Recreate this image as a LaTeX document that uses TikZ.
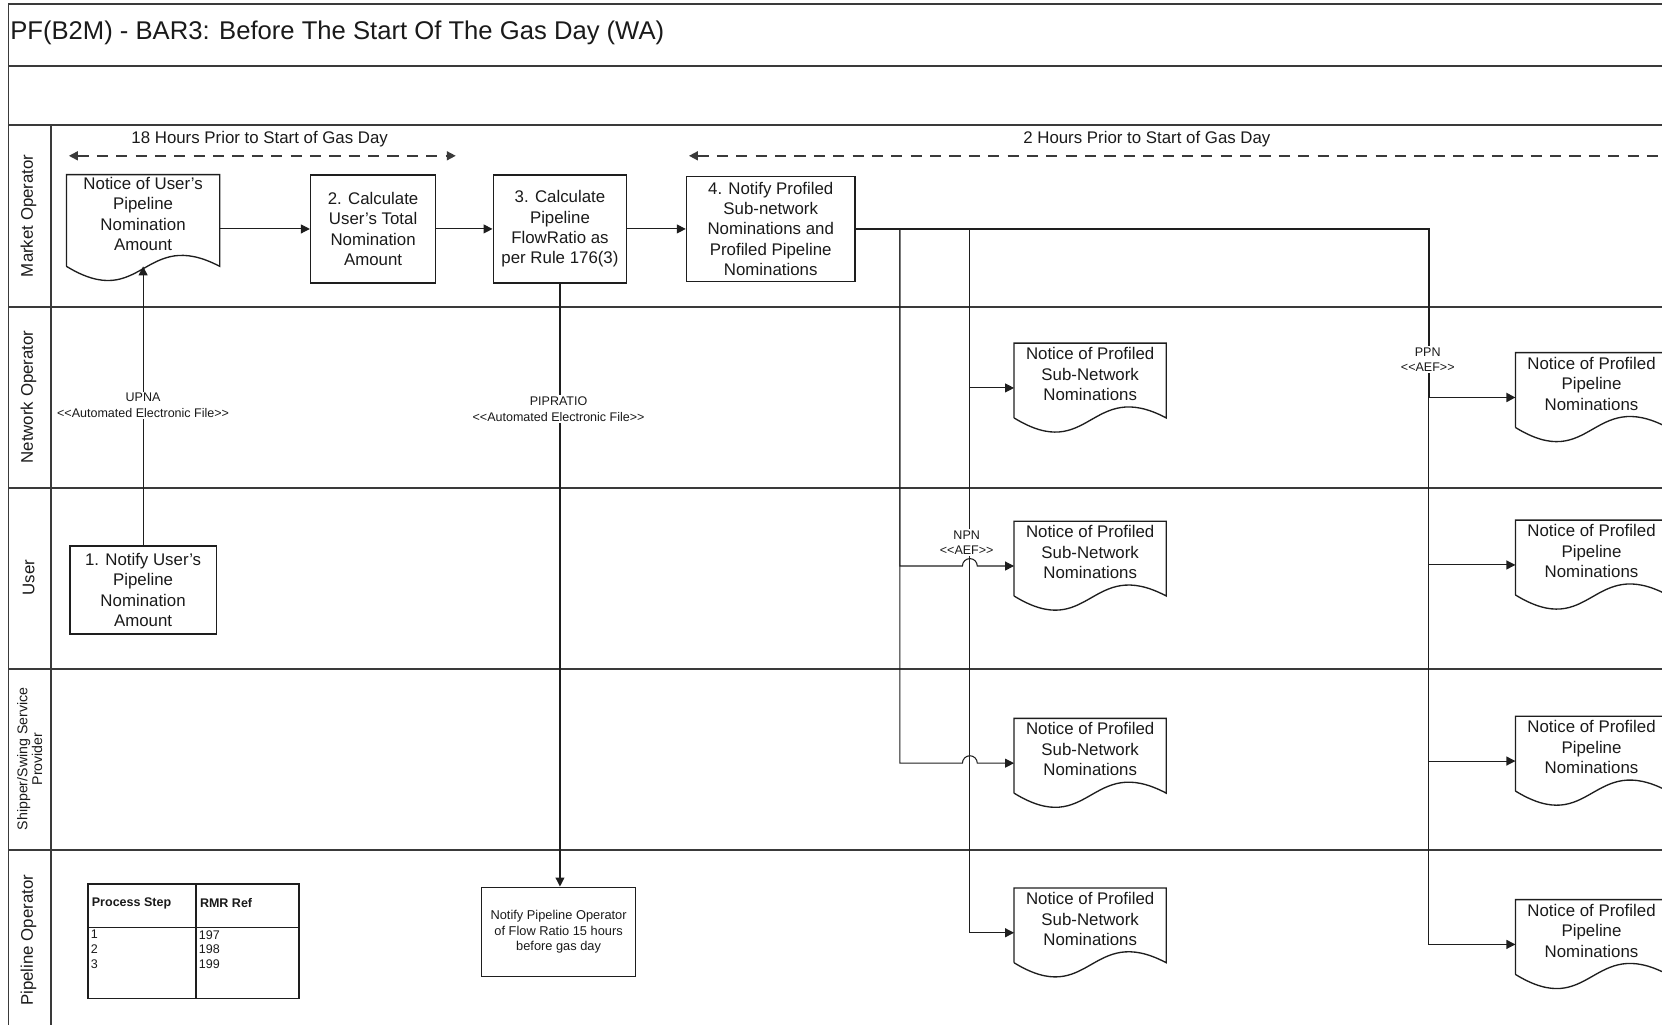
\documentclass[tikz,border=0pt]{standalone}
\usepackage{fontspec}
\setmainfont{Liberation Sans}
\usetikzlibrary{arrows.meta, positioning, calc}
\definecolor{laneline}{HTML}{3A3A3A}
\definecolor{boxline}{HTML}{1E1E1E}
\definecolor{darktext}{HTML}{1A1A1A}

\newcommand{\dbllt}{<\kern0pt<}
\newcommand{\dblgt}{>\kern0pt>}
% document shape: outline with wavy bottom drawn round a node
\newcommand{\docoutline}[1]{%
  \draw[docline] ($(#1.south west)+(0,12)$) -- (#1.north west) -- (#1.north east) -- ($(#1.south east)+(0,12)$)
    .. controls ($(#1.south)+(0,-26)$) and ($(#1.south)+(0,56)$) .. ($(#1.south west)+(0,12)$);
  \coordinate (#1-in) at ($(#1.west)+(0,13)$);
  \coordinate (#1-bot) at ($(#1.south)+(0,12)$);
}

\begin{document}
\begin{tikzpicture}[
  x=0.025cm, y=-0.025cm,
  every node/.style={font=\fontsize{11.3}{13.7}\selectfont, text=darktext},
  procbox/.style={rectangle, draw=boxline, line width=0.9pt, align=center, inner sep=1.5pt},
  docnode/.style={rectangle, align=center, inner sep=1pt, minimum width=3.575cm, minimum height=1.45cm},
  docline/.style={draw=boxline, line width=0.9pt},
  lane/.style={draw=laneline, line width=1.3pt},
  lanelabel/.style={rotate=90, align=center},
  flow/.style={-{Triangle[length=6pt, width=6pt]}, line width=0.7pt, draw=boxline},
  trunk/.style={flow, line width=1.3pt},
  timing/.style={{Triangle[length=6pt, width=6pt]}-{Triangle[length=6pt, width=6pt]}, line width=1.1pt, draw=laneline, dash pattern=on 7.5pt off 5.5pt},
  tag/.style={font=\fontsize{8.4}{10.5}\selectfont, fill=white, inner sep=1pt, align=center},
  smalltext/.style={font=\fontsize{8.6}{10.3}\selectfont},
  tabtext/.style={font=\fontsize{8.4}{10}\selectfont, inner sep=1pt, align=left}
]
\useasboundingbox (0,0) rectangle (1568,967);
\clip (0,0) rectangle (1568,967);

% === LANES ===
\foreach \ly in {4,62,118,290,460,631,802}
  \draw[lane] (8,\ly) -- (1720,\ly);
\draw[lane] (8,4) -- (8,1000);
\draw[lane] (48,118) -- (48,1000);

\node[anchor=west, inner sep=1pt, font=\fontsize{17.2}{20}\selectfont] (title) at (8,31) {PF(B2M) - BAR3: Before The Start Of The Gas Day (WA)};

\node[lanelabel] (lanemo) at (27,203.5) {Market Operator};
\node[lanelabel] (laneno) at (27,374.5) {Network Operator};
\node[lanelabel] (laneuser) at (27,545) {User};
\node[lanelabel, font=\fontsize{9.5}{10}\selectfont] (laneship) at (28,716) {Shipper/Swing Service\\Provider};
\node[lanelabel] (lanepo) at (27,887) {Pipeline Operator};

% === TIMING ===
\node (t18) at (245,131) {18 Hours Prior to Start of Gas Day};
\coordinate (t18l) at (65,147);
\coordinate (t18r) at (430,147);
\draw[timing] (t18l) -- (t18r);
\node (t2) at (1082,131) {2 Hours Prior to Start of Gas Day};
\coordinate (t2l) at (650,147);
\coordinate (t2r) at (1720,147);
\draw[timing] (t2l) -- (t2r);

% === MARKET OPERATOR ===
\node[docnode, minimum width=3.6cm, minimum height=1.85cm] (upnadoc) at (135,202) {Notice of User's\\Pipeline\\Nomination\\Amount};
\docoutline{upnadoc}
\node[procbox, minimum width=2.95cm, minimum height=2.55cm] (calctotal) at (352,216) {2. Calculate\\User's Total\\Nomination\\Amount};
\node[procbox, minimum width=3.15cm, minimum height=2.55cm, right=1.325cm of calctotal] (calcratio) {3. Calculate\\Pipeline\\FlowRatio as\\per Rule 176(3)};
\node[procbox, minimum width=3.975cm, minimum height=2.475cm, right=1.375cm of calcratio] (notifyprof) {4. Notify Profiled\\Sub-network\\Nominations and\\Profiled Pipeline\\Nominations};

\draw[flow] (upnadoc.east |- calctotal.west) -- (calctotal.west);
\draw[flow] (calctotal) -- (calcratio);
\draw[flow] (calcratio) -- (notifyprof);

% === USER ===
\node[procbox, minimum width=3.45cm, minimum height=2.075cm] (notifyuser) at (135,556.5) {1. Notify User's\\Pipeline\\Nomination\\Amount};
\draw[flow] (notifyuser.north) -- (upnadoc-bot);

% === PIPELINE OPERATOR ===
\node[procbox, smalltext, minimum width=3.625cm, minimum height=2.1cm] (notifypo) at (527,879) {Notify Pipeline Operator\\of Flow Ratio 15 hours\\before gas day};
\draw[flow] (calcratio.south) -- (calcratio.south |- notifypo.north);

% table of process steps
\draw[docline] (83,834) rectangle (282,942);
\draw[docline] (185,834) -- (185,942);
\draw[docline] (83,875) -- (282,875);
\node[tabtext, font=\fontsize{8.4}{10}\selectfont\bfseries, anchor=west] (hstep) at (85,852) {Process Step};
\node[tabtext, font=\fontsize{8.4}{10}\selectfont\bfseries, anchor=west] (hrmr) at (187,852) {RMR Ref};
\node[tabtext, anchor=north west] (steps) at (84,876) {1\\2\\3};
\node[tabtext, anchor=north west] (rmrs) at (186,876) {197\\198\\199};

% === NOTICES ===
\node[docnode] (subno) at (1028.5,353) {Notice of Profiled\\Sub-Network\\Nominations};
\node[docnode] (subuser) at (1028.5,521) {Notice of Profiled\\Sub-Network\\Nominations};
\node[docnode] (subship) at (1028.5,707) {Notice of Profiled\\Sub-Network\\Nominations};
\node[docnode] (subpo) at (1028.5,867) {Notice of Profiled\\Sub-Network\\Nominations};
\node[docnode] (pipeno) at (1501.5,362) {Notice of Profiled\\Pipeline\\Nominations};
\node[docnode] (pipeuser) at (1501.5,520) {Notice of Profiled\\Pipeline\\Nominations};
\node[docnode] (pipeship) at (1501.5,705) {Notice of Profiled\\Pipeline\\Nominations};
\node[docnode] (pipepo) at (1501.5,878) {Notice of Profiled\\Pipeline\\Nominations};
\foreach \d in {subno,subuser,subship,subpo,pipeno,pipeuser,pipeship,pipepo}
  {\docoutline{\d}}

% junctions on the line out of step 4
\coordinate (jsub) at (849,216);
\coordinate (jnpn) at (915,216);
\coordinate (jppn) at (1348,216);

\draw[trunk] (notifyprof.east) -- (jppn) |- (pipeno-in);
\foreach \d in {pipeuser,pipeship,pipepo}
  \draw[flow] (notifyprof.east) -- (jppn) |- (\d-in);
\draw[flow] (notifyprof.east) -- (jnpn) |- (subno-in);
\draw[flow] (notifyprof.east) -- (jsub) |- ($(subuser-in -| jnpn)+(-7,0)$) arc[start angle=180, end angle=0, radius=0.175cm] -- (subuser-in);
\draw[flow] (notifyprof.east) -- (jsub) |- ($(subship-in -| jnpn)+(-7,0)$) arc[start angle=180, end angle=0, radius=0.175cm] -- (subship-in);
\draw[flow] (notifyprof.east) -- (jnpn) |- (subpo-in);

% connector labels
\node[tag] (upna) at (135,382.5) {UPNA\\\dbllt Automated Electronic File\dblgt};
\node[tag] (pipratio) at (527,386) {PIPRATIO\\\dbllt Automated Electronic File\dblgt};
\node[tag] (npn) at (912,512) {NPN\\\dbllt AEF\dblgt};
\node[tag] (ppn) at (1347,339.5) {PPN\\\dbllt AEF\dblgt};

\end{tikzpicture}
\end{document}
